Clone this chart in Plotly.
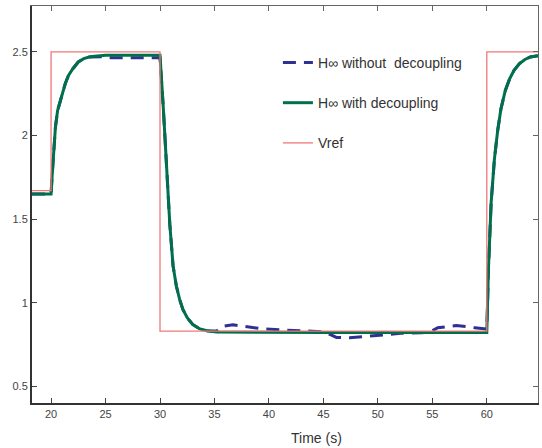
import plotly.graph_objects as go

# ---- data ----
t_with = [18.25, 20.0, 20.1, 20.2, 20.4, 20.6, 20.8, 21.0, 21.3, 21.6, 22.0, 22.5,
          23.0, 23.5, 24.0, 25.0, 27.0, 30.0, 30.3, 30.6, 30.9, 31.2, 31.5, 31.8,
          32.1, 32.5, 33.0, 33.6, 34.3, 35.2, 40.0, 45.0, 50.0, 55.0, 60.0, 60.05,
          60.15, 60.4, 60.7, 61.0, 61.3, 61.7, 62.1, 62.5, 63.0, 63.5, 64.0, 64.7]
v_with = [1.65, 1.65, 1.76, 1.88, 2.05, 2.15, 2.20, 2.24, 2.31, 2.36, 2.40, 2.44,
          2.46, 2.47, 2.475, 2.48, 2.48, 2.48, 2.17, 1.78, 1.47, 1.22, 1.10, 1.02,
          0.96, 0.91, 0.87, 0.845, 0.832, 0.825, 0.822, 0.822, 0.822, 0.822, 0.822, 0.95,
          1.20, 1.60, 1.86, 2.03, 2.16, 2.27, 2.34, 2.39, 2.43, 2.455, 2.47, 2.478]

t_without = [18.25, 20.0, 20.1, 20.2, 20.4, 20.6, 20.8, 21.0, 21.3, 21.6, 22.0, 22.5,
             23.0, 23.5, 24.0, 25.0, 25.5, 27.0, 30.0, 30.3, 30.6, 30.9, 31.2, 31.5,
             31.8, 32.1, 32.5, 33.0, 33.6, 34.3, 35.2, 35.7, 36.7, 38.3, 39.3, 41.0,
             42.5, 44.2, 45.0, 45.6, 46.2, 47.4, 49.0, 50.8, 52.3, 54.0, 54.8, 55.5,
             57.2, 58.9, 59.8, 60.0, 60.05, 60.15, 60.4, 60.7, 61.0, 61.3, 61.7, 62.1,
             62.5, 63.0, 63.5, 64.0, 64.7]
v_without = [1.65, 1.65, 1.76, 1.88, 2.05, 2.15, 2.20, 2.24, 2.31, 2.36, 2.40, 2.44,
             2.46, 2.47, 2.472, 2.472, 2.466, 2.466, 2.466, 2.17, 1.78, 1.47, 1.22, 1.10,
             1.02, 0.96, 0.91, 0.87, 0.845, 0.832, 0.83, 0.858, 0.868, 0.852, 0.844, 0.838,
             0.834, 0.832, 0.826, 0.81, 0.792, 0.79, 0.80, 0.812, 0.818, 0.82, 0.826, 0.85,
             0.864, 0.85, 0.842, 0.842, 0.95, 1.20, 1.60, 1.86, 2.03, 2.16, 2.27, 2.34,
             2.39, 2.43, 2.455, 2.47, 2.478]

t_ref = [18.25, 20.0, 30.0, 60.0, 64.7]
v_ref = [1.67, 2.5, 0.83, 2.5, 2.5]

x_ticks = [20, 25, 30, 35, 40, 45, 50, 55, 60]
y_ticks = [0.5, 1, 1.5, 2, 2.5]
x_range = [18.25, 64.7]
y_range = [0.4, 2.775]

names = ["H\u221e without  decoupling", "H\u221e with decoupling", "Vref"]

fig = go.Figure()
fig.add_trace(go.Scatter(x=t_without, y=v_without, mode="lines", name=names[0],
                         legendgroup="a",
                         line=dict(color="#2e3192", width=3, dash="13px,8px")))
fig.add_trace(go.Scatter(x=t_with, y=v_with, mode="lines", name=names[1],
                         legendgroup="b",
                         line=dict(color="#00704a", width=3)))
fig.add_trace(go.Scatter(x=t_ref, y=v_ref, mode="lines", name=names[2],
                         legendgroup="c", line_shape="hv",
                         line=dict(color="#f07878", width=1.3)))

font_family = "Liberation Sans, Arial, sans-serif"

fig.update_layout(
    width=542, height=448,
    margin=dict(l=32, r=4, t=6, b=45),
    paper_bgcolor="white", plot_bgcolor="white",
    font=dict(family=font_family, color="#444", size=11),
    showlegend=True,
    legend=dict(x=0.486, y=0.897, xanchor="left", yanchor="top",
                bgcolor="rgba(0,0,0,0)", font=dict(size=14, color="#333"),
                tracegroupgap=19, traceorder="grouped"),
    xaxis=dict(range=x_range, tickvals=x_ticks, ticks="inside", ticklen=5,
               showline=True, linecolor="#333", linewidth=2, showgrid=False,
               zeroline=False, tickcolor="#444", automargin=False,
               tickfont=dict(size=11, color="#444")),
    yaxis=dict(range=y_range, tickvals=y_ticks, ticks="inside", ticklen=5,
               showline=True, linecolor="#333", linewidth=2, showgrid=False,
               zeroline=False, tickcolor="#444", automargin=False,
               tickfont=dict(size=11, color="#444")),
    xaxis2=dict(range=x_range, tickvals=x_ticks, ticks="inside", ticklen=5,
                overlaying="x", side="top", showticklabels=False, showline=True,
                linecolor="#666", linewidth=1, showgrid=False, zeroline=False,
                tickcolor="#666", automargin=False),
    yaxis2=dict(range=y_range, tickvals=y_ticks, ticks="inside", ticklen=5,
                overlaying="y", side="right", showticklabels=False, showline=True,
                linecolor="#666", linewidth=1, showgrid=False, zeroline=False,
                tickcolor="#666", automargin=False),
)
# invisible trace to activate the mirror axes
fig.add_trace(go.Scatter(x=[x_range[0]], y=[y_range[0]], xaxis="x2", yaxis="y2",
                         mode="markers", marker=dict(opacity=0), showlegend=False,
                         hoverinfo="skip"))

fig.add_annotation(text="Time (s)", xref="paper", yref="paper", x=0.563, y=-0.088,
                   xanchor="center", yanchor="middle", showarrow=False,
                   font=dict(size=14, color="#333", family=font_family))

fig.write_html("out.html", config={"displayModeBar": False},
               post_script="document.body.style.margin='0';")
